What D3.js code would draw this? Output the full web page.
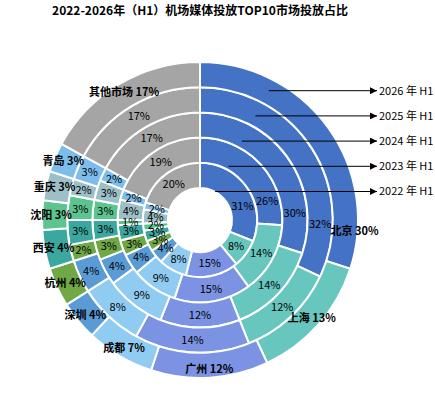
<!DOCTYPE html>
<meta charset="utf-8">
<script src="https://cdn.jsdelivr.net/npm/d3@7"></script>
<style>
  body { margin: 0; background: #fff; }
  text { font-family: "Noto Sans CJK SC", "Noto Sans", sans-serif; }
</style>
<div id="my_dataviz"></div>
<script>

// categories, clockwise from 12 o'clock
var cities = ["北京", "上海", "广州", "成都", "深圳", "杭州", "西安", "沈阳", "重庆", "青岛", "其他市场"];
var years = ["2022 年 H1", "2023 年 H1", "2024 年 H1", "2025 年 H1", "2026 年 H1"];

// share (%) per ring, inner ring = 2022
var v2022 = [31, 8, 15, 8, 4, 3, 3, 2, 4, 2, 20];
var v2023 = [26, 14, 15, 9, 4, 3, 3, 1, 4, 2, 19];
var v2024 = [30, 14, 12, 9, 4, 3, 3, 3, 3, 2, 17];
var v2025 = [32, 12, 14, 8, 4, 2, 3, 3, 2, 3, 17];
var v2026 = [30, 13, 12, 7, 4, 4, 4, 3, 3, 3, 17];
var rings = [v2022, v2023, v2024, v2025, v2026];

var colors = ["#4472C4", "#67C6BE", "#7B93E2", "#90CBF1", "#5B9BD5", "#6FA845",
              "#3AA89E", "#5CC48E", "#9DC0C8", "#7DBDEB", "#A5A5A5"];

var width = 435, height = 415;
var cx = 200, cy = 220;
var r0 = 32, r1 = 158;
var band = (r1 - r0) / rings.length;

var svg = d3.select("#my_dataviz")
  .append("svg")
    .attr("width", width)
    .attr("height", height);

// title
svg.append("text")
  .attr("x", 200)
  .attr("y", 15)
  .attr("text-anchor", "middle")
  .style("font-size", "12px")
  .style("font-weight", "bold")
  .text("2022-2026年（H1）机场媒体投放TOP10市场投放占比");

var g = svg.append("g")
  .attr("transform", "translate(" + cx + "," + cy + ")");

var pie = d3.pie().sort(null).value(function(d) { return d; });
var color = d3.scaleOrdinal().domain(cities).range(colors);

// Beijing labels were pulled aside in the original to clear the arrows
var bjAngle = [72, 74, 86, 92, 94];

rings.forEach(function(vals, i) {
  var inner = r0 + band * i, outer = inner + band;
  var arc = d3.arc().innerRadius(inner).outerRadius(outer);
  var last = i == rings.length - 1;
  var arcs = pie(vals);

  g.selectAll(".ring" + i)
    .data(arcs)
    .enter()
    .append("path")
      .attr("class", "ring" + i)
      .attr("d", arc)
      .attr("fill", function(d) { return color(cities[d.index]); })
      .attr("stroke", "#fff")
      .attr("stroke-width", 2);

  var lr = last ? 149 : (inner + outer) / 2;
  g.selectAll(".lab" + i)
    .data(arcs)
    .enter()
    .append("text")
      .attr("class", "lab" + i)
      .attr("transform", function(d) {
        var a = (d.startAngle + d.endAngle) / 2, rr = lr;
        if (d.index == 0) { a = bjAngle[i] * Math.PI / 180; if (last) rr = 155; }
        return "translate(" + (rr * Math.sin(a)) + "," + (-rr * Math.cos(a)) + ")";
      })
      .attr("text-anchor", "middle")
      .attr("dy", "0.35em")
      .style("font-size", "11px")
      .style("font-weight", last ? "bold" : "normal")
      .attr("fill", "#000")
      .text(function(d) {
        return last ? cities[d.index] + " " + d.data + "%" : d.data + "%";
      });
});

// arrow head
svg.append("defs").append("marker")
  .attr("id", "arrow")
  .attr("viewBox", "0 0 10 10")
  .attr("refX", 10).attr("refY", 5)
  .attr("markerWidth", 7).attr("markerHeight", 7)
  .attr("orient", "auto")
  .append("path")
    .attr("d", "M0,0L10,5L0,10z")
    .attr("fill", "#000");

// year pointers, one per ring
var tipX = 377, tilt = Math.tan(28 * Math.PI / 180);
years.forEach(function(y, i) {
  var dy = r0 + band * i - 3.5;
  var ly = cy - dy;
  svg.append("line")
    .attr("x1", cx + dy * tilt * 1.0)
    .attr("y1", ly)
    .attr("x2", tipX)
    .attr("y2", ly)
    .attr("stroke", "#000")
    .attr("stroke-width", 1)
    .attr("marker-end", "url(#arrow)");
  svg.append("text")
    .attr("x", tipX + 2)
    .attr("y", ly)
    .attr("dy", "0.35em")
    .style("font-size", "11px")
    .text(y);
});

</script>
